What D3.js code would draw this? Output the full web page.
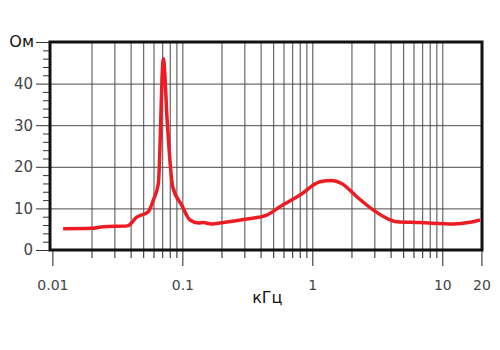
<!DOCTYPE html>
<html>
<head>
<meta charset="utf-8">
<script src="https://cdn.jsdelivr.net/npm/d3@7"></script>
<style>
  body { margin: 0; background: #fff; }
  text { font-family: "DejaVu Sans", Verdana, sans-serif; }
</style>
</head>
<body>
<div id="chart"></div>
<script>
// impedance curve, kHz vs Ohm
var freq = [0.0121, 0.0201, 0.0247, 0.0378, 0.0446, 0.0547, 0.0598, 0.0654, 0.0714, 0.0768, 0.0843,
  0.0989, 0.1146, 0.133, 0.145, 0.168, 0.207, 0.313, 0.446, 0.564, 0.804, 1.146, 1.41, 1.68, 2.2, 2.95,
  4.46, 6.74, 12.2, 16.3, 19.5];
var ohm = [5.1, 5.2, 5.6, 5.8, 7.9, 9.2, 12, 16, 46, 30, 15.2,
  10.8, 7.2, 6.5, 6.6, 6.25, 6.6, 7.45, 8.4, 10.4, 13.2, 16.4, 16.7, 16.0, 12.8, 9.6,
  6.8, 6.6, 6.25, 6.65, 7.2];

var yTicks = [0, 10, 20, 30, 40];
var xLabels = [0.01, 0.1, 1, 10, 20];
var xLabelText = ["0.01", "0.1", "1", "10", "20"];

var width = 500, height = 350;
var margin = { top: 42, right: 18, bottom: 100, left: 50 };
var w = width - margin.left - margin.right;
var h = height - margin.top - margin.bottom;

var svg = d3.select("#chart")
  .append("svg")
  .attr("width", width)
  .attr("height", height);

var g = svg.append("g")
  .attr("transform", "translate(" + margin.left + "," + margin.top + ")");

var x = d3.scaleLog()
  .domain([0.00959, 20.2])
  .range([0, w]);

var y = d3.scaleLinear()
  .domain([0, 50])
  .range([h, 0]);

// grid positions: 2..9 of each decade plus decades
var gridX = [];
[0.01, 0.1, 1, 10].forEach(function (d) {
  for (var k = 1; k <= 9; k++) {
    var v = d * k;
    if (v > 0.01 && v <= 10) gridX.push(+v.toPrecision(3));
  }
});

// vertical grid
g.append("g")
  .attr("transform", "translate(0," + h + ")")
  .call(d3.axisBottom(x).tickValues(gridX).tickSize(-h).tickFormat(""))
  .call(function (s) {
    s.select(".domain").remove();
    s.selectAll("line").attr("stroke", "#4a4a4a").attr("stroke-width", 1);
  });

// horizontal grid
g.append("g")
  .call(d3.axisLeft(y).tickValues([10, 20, 30, 40]).tickSize(-w).tickFormat(""))
  .call(function (s) {
    s.select(".domain").remove();
    s.selectAll("line").attr("stroke", "#4a4a4a").attr("stroke-width", 1);
  });

// bottom minor ticks
g.append("g")
  .attr("transform", "translate(0," + h + ")")
  .call(d3.axisBottom(x).tickValues(gridX.filter(function (d) { return xLabels.indexOf(d) < 0; })).tickSize(8).tickFormat(""))
  .call(function (s) {
    s.select(".domain").remove();
    s.selectAll("line").attr("stroke", "#222").attr("stroke-width", 1);
  });

// bottom major ticks + labels
g.append("g")
  .attr("transform", "translate(0," + h + ")")
  .call(d3.axisBottom(x).tickValues(xLabels).tickSize(16).tickPadding(14)
    .tickFormat(function (d, i) { return xLabelText[i]; }))
  .call(function (s) {
    s.select(".domain").remove();
    s.selectAll("line").attr("stroke", "#222").attr("stroke-width", 1);
    s.selectAll("text").attr("fill", "#444").style("font-size", "14px");
  });

// left minor ticks
g.append("g")
  .call(d3.axisLeft(y).tickValues(d3.range(2, 50, 2).filter(function (d) { return d % 10 !== 0; }))
    .tickSize(7).tickFormat(""))
  .call(function (s) {
    s.select(".domain").remove();
    s.selectAll("line").attr("stroke", "#333").attr("stroke-width", 1);
  });

// left major ticks + labels
g.append("g")
  .call(d3.axisLeft(y).tickValues(yTicks.concat([50])).tickSize(14).tickPadding(3)
    .tickFormat(function (d) { return d === 50 ? "" : d; }))
  .call(function (s) {
    s.select(".domain").remove();
    s.selectAll("line").attr("stroke", "#333").attr("stroke-width", 1);
    s.selectAll("text").attr("fill", "#444").style("font-size", "15px");
  });

// unit labels
g.append("text")
  .attr("x", -16)
  .attr("y", y(50))
  .attr("dy", "0.3em")
  .attr("text-anchor", "end")
  .style("font-size", "16px")
  .attr("fill", "#111")
  .text("Ом");

g.append("text")
  .attr("x", x(1) - 45)
  .attr("y", h + 53)
  .attr("text-anchor", "middle")
  .style("font-size", "16px")
  .attr("fill", "#111")
  .text("кГц");

// curve
var line = d3.line()
  .x(function (d, i) { return x(freq[i]); })
  .y(function (d) { return y(d); })
  .curve(d3.curveMonotoneX);

g.append("path")
  .datum(ohm)
  .attr("d", line)
  .attr("fill", "none")
  .attr("stroke", "#ec1c24")
  .attr("stroke-width", 3.5)
  .attr("stroke-linejoin", "round");

// frame
g.append("rect")
  .attr("width", w)
  .attr("height", h)
  .attr("fill", "none")
  .attr("stroke", "#111")
  .attr("stroke-width", 3);
</script>
</body>
</html>
